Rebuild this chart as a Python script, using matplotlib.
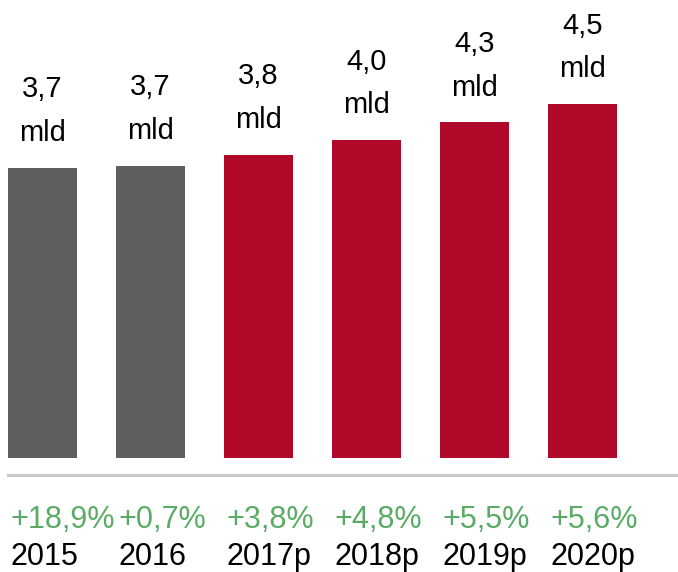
import matplotlib
matplotlib.use("Agg")
import matplotlib.pyplot as plt

years = ["2015", "2016", "2017p", "2018p", "2019p", "2020p"]
values = [3.69, 3.716, 3.857, 4.04, 4.265, 4.50]
value_labels = ["3,7\nmld", "3,7\nmld", "3,8\nmld", "4,0\nmld", "4,3\nmld", "4,5\nmld"]
growth = ["+18,9%", "+0,7%", "+3,8%", "+4,8%", "+5,5%", "+5,6%"]
colors = ["#5f5f5f", "#5f5f5f", "#b0092a", "#b0092a", "#b0092a", "#b0092a"]

plt.rcParams['font.family'] = ['Liberation Sans', 'DejaVu Sans']

W, H = 678, 572
fig = plt.figure(figsize=(W / 100, H / 100), dpi=100)
ax = fig.add_axes([8 / W, (H - 475) / H, 1 - 8 / W, 475 / H])

bw = 0.64
x = list(range(len(years)))
ax.bar(x, values, width=bw, color=colors)
ax.set_xlim(-bw / 2, -bw / 2 + (W - 8) / 108)
ppu = 354 / 4.5
ax.set_ylim(-(475 - 458) / ppu, 458 / ppu)

for i, (v, lab) in enumerate(zip(values, value_labels)):
    ax.annotate(lab, xy=(i, v), xytext=(0, 15), textcoords="offset points",
                ha="center", va="bottom", fontsize=21, color="black",
                linespacing=1.7)

for i, (g, yl) in enumerate(zip(growth, years)):
    ax.annotate(g, xy=(i - bw / 2, 0), xycoords=("data", "axes fraction"),
                xytext=(2, -38.5), textcoords="offset points",
                ha="left", va="baseline", fontsize=22, color="#5aab66",
                annotation_clip=False)
    ax.annotate(yl, xy=(i - bw / 2, 0), xycoords=("data", "axes fraction"),
                xytext=(2, -65), textcoords="offset points",
                ha="left", va="baseline", fontsize=22, color="black",
                annotation_clip=False)

for s in ["top", "right", "left"]:
    ax.spines[s].set_visible(False)
ax.spines["bottom"].set_color("#c8c8c8")
ax.spines["bottom"].set_linewidth(2.2)
ax.set_xticks([])
ax.set_yticks([])

fig.savefig("out.png", dpi=100)
